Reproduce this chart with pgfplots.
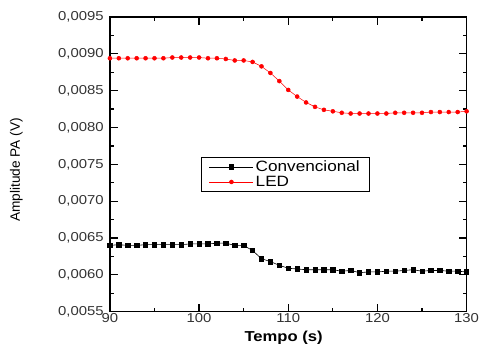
\documentclass[border=0pt]{standalone}
\usepackage{pgfplots}
\pgfplotsset{compat=1.18}
\usepackage{fontspec}
\setmainfont{Liberation Sans}[FakeStretch=1.15]
\newfontfamily\plainfont{Liberation Sans}
\pgfplotstableread{
t v
90 0.00640
91 0.00641
92 0.00640
93 0.00640
94 0.00641
95 0.00641
96 0.00641
97 0.00641
98 0.00641
99 0.00642
100 0.00642
101 0.00642
102 0.00643
103 0.00643
104 0.00640
105 0.00640
106 0.00633
107 0.00622
108 0.00618
109 0.00613
110 0.00609
111 0.00608
112 0.00607
113 0.00607
114 0.00607
115 0.00607
116 0.00605
117 0.00606
118 0.00603
119 0.00604
120 0.00604
121 0.00605
122 0.00605
123 0.00606
124 0.00607
125 0.00605
126 0.00606
127 0.00606
128 0.00605
129 0.00605
130 0.00604
}\conv
\pgfplotstableread{
t v
90 0.00894
91 0.00894
92 0.00894
93 0.00894
94 0.00894
95 0.00894
96 0.00894
97 0.00895
98 0.00895
99 0.00895
100 0.00895
101 0.00894
102 0.00894
103 0.00893
104 0.00891
105 0.00891
106 0.00889
107 0.00883
108 0.00874
109 0.00863
110 0.00851
111 0.00842
112 0.00834
113 0.00828
114 0.00824
115 0.00822
116 0.00820
117 0.00819
118 0.00819
119 0.00819
120 0.00819
121 0.00819
122 0.00820
123 0.00820
124 0.00820
125 0.00820
126 0.00821
127 0.00821
128 0.00821
129 0.00821
130 0.00822
}\led
\begin{document}
\begin{tikzpicture}
\begin{axis}[
  scale only axis,
  width=357bp, height=295bp,
  xmin=90, xmax=130, ymin=0.0055, ymax=0.0095,
  xtick={90,100,...,130},
  ytick={0.0055,0.0060,...,0.0096},
  minor x tick num=1, minor y tick num=1,
  scaled y ticks=false,
  tick align=inside,
  major tick length=8bp, minor tick length=4bp,
  axis line style={line width=1.5bp},
  every tick/.style={line width=1.2bp, black},
  yticklabel style={/pgf/number format/fixed, /pgf/number format/fixed zerofill, /pgf/number format/precision=4, /pgf/number format/use comma},
  /pgf/number format/assume math mode=true,
  ticklabel style={font=\fontsize{13}{15}\selectfont, color=black!80},
  xticklabel style={inner sep=1bp, yshift=-1bp},
  yticklabel style={inner sep=1bp, xshift=-5bp},
  xlabel={\textbf{Tempo (s)}},
  ylabel={Amplitude PA (V)},
  xlabel style={font=\fontsize{14.5}{16}\selectfont, at={(axis description cs:0.487,-0.087)}, anchor=center},
  ylabel style={font=\plainfont\fontsize{13.7}{15}\selectfont, at={(axis description cs:-0.262,0.481)}, anchor=center},
  legend style={at={(0.255,0.525)}, anchor=north west, draw=black, line width=0.6bp,
    font=\fontsize{15}{17}\selectfont, inner xsep=8bp, inner ysep=2bp, row sep=0bp,
    nodes={inner xsep=2bp, inner ysep=1.5bp}},
  legend cell align=left,
  legend image code/.code={%
    \draw[mark repeat=2,mark phase=2] plot coordinates {(0bp,0bp) (22bp,0bp) (44bp,0bp)};},
]
\addplot[black, line width=0.6bp, mark=square*, mark size=2.2bp, mark options={solid}] table[x=t,y=v]{\conv};
\addlegendentry{Convencional\hspace{9bp}}
\addplot[red, line width=0.5bp, mark=*, mark size=2bp, mark options={solid}] table[x=t,y=v]{\led};
\addlegendentry{LED}
\end{axis}
\path[use as bounding box] ([shift={(-110bp,-35bp)}]current axis.south west) rectangle ([shift={(13bp,17bp)}]current axis.north east);
\end{tikzpicture}
\end{document}
